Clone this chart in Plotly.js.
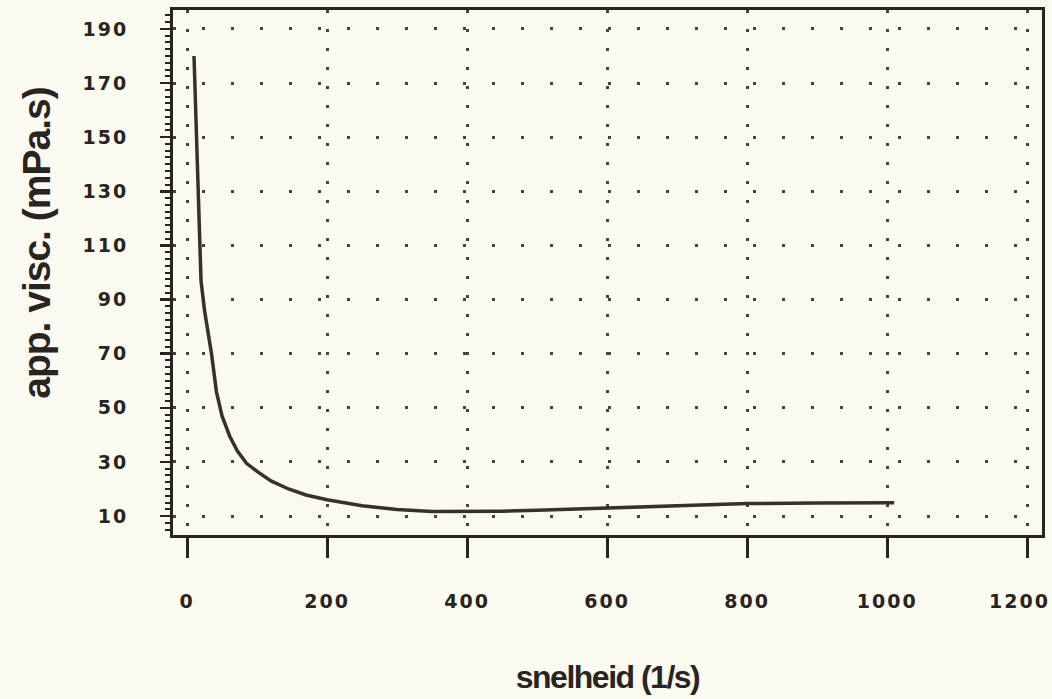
<!DOCTYPE html>
<html>
<head>
<meta charset="utf-8">
<script src="https://cdn.plot.ly/plotly-3.0.1.min.js"></script>
<style>
  html, body { margin: 0; padding: 0; background: #fbfaf1; }
  #chart { width: 1052px; height: 699px; }
  .xtick text, .ytick text { letter-spacing: 2px; }
  .xtitle { letter-spacing: -1.5px; }
  .annotation[data-index="0"] text { letter-spacing: -1px; }
  .annotation[data-index="1"] text { letter-spacing: 2px; }
</style>
</head>
<body>
<div id="chart"></div>
<script>
// Apparent viscosity against shear rate
const shearRate = [10, 15, 20, 25, 30, 35, 42, 50, 61, 72, 85, 100, 120, 145, 170, 200, 250, 300, 350, 400, 450, 500, 600, 700, 800, 900, 1010];
const viscosity = [180, 137, 97, 86, 78, 70, 56, 47, 39.5, 34, 29.5, 26.5, 23, 20, 17.8, 16, 13.8, 12.4, 11.7, 11.6, 11.8, 12.1, 13, 13.8, 14.6, 14.8, 14.9];

const xTickValues = [0, 200, 400, 600, 800, 1000, 1200];
const xTickLabels = ['0', '200', '400', '600', '800', '1000', '1200'];
const yTickValues = [10, 30, 50, 70, 90, 110, 130, 150, 170, 190];

const xTitle = 'snelheid (1/s)';
const yTitle = 'app. visc. (mPa.s)';

const ink = '#2a2421';
const tickFont = { family: 'DejaVu Sans, Arial, sans-serif', size: 19, color: ink, weight: 700 };
const titleFamily = 'Liberation Sans, Arial, sans-serif';

// the last x label is pulled in from the page edge, so it is written
// as a right-anchored note at its tick instead of a centred tick label
const lastX = xTickValues[xTickValues.length - 1];
const axisLabels = xTickLabels.slice(0, -1).concat(['']);

const trace = {
  type: 'scatter',
  mode: 'lines',
  x: shearRate,
  y: viscosity,
  line: { color: '#3a302b', width: 3.5 },
  hoverinfo: 'x+y'
};

const layout = {
  width: 1052,
  height: 699,
  paper_bgcolor: '#fbfaf1',
  plot_bgcolor: '#fbfaf1',
  margin: { l: 173, r: 10, t: 10, b: 164 },
  showlegend: false,
  xaxis: {
    range: [-20, 1221],
    tickmode: 'array',
    tickvals: xTickValues,
    ticktext: axisLabels,
    ticks: 'outside',
    ticklen: 20,
    tickwidth: 3,
    tickcolor: ink,
    ticklabelstandoff: 27,
    tickfont: tickFont,
    showline: true,
    linewidth: 3,
    linecolor: ink,
    mirror: true,
    showgrid: true,
    gridcolor: '#4a423d',
    gridwidth: 3,
    griddash: '3px,16px',
    zeroline: false,
    automargin: false,
    title: { text: xTitle, font: { family: titleFamily, size: 32, color: ink, weight: 700 }, standoff: 55 }
  },
  yaxis: {
    range: [3, 197],
    tickmode: 'array',
    tickvals: yTickValues,
    ticktext: yTickValues.map(String),
    ticks: 'outside',
    ticklen: 10,
    tickwidth: 2.5,
    tickcolor: ink,
    ticklabelstandoff: 28,
    tickfont: tickFont,
    minor: { dtick: 2.5, tick0: 10, ticks: 'outside', ticklen: 5, tickwidth: 2, tickcolor: ink, showgrid: false },
    showline: true,
    linewidth: 3,
    linecolor: ink,
    mirror: true,
    showgrid: true,
    gridcolor: '#4a423d',
    gridwidth: 3,
    griddash: '3px,26px',
    zeroline: false,
    automargin: false
  },
  annotations: [{
    text: yTitle,
    xref: 'paper',
    yref: 'paper',
    x: -0.158,
    y: 0.556,
    xanchor: 'center',
    yanchor: 'middle',
    textangle: -90,
    showarrow: false,
    font: { family: titleFamily, size: 39, color: ink, weight: 700 }
  }, {
    text: xTickLabels[xTickLabels.length - 1],
    xref: 'x',
    yref: 'paper',
    x: lastX,
    y: -0.1257,
    xanchor: 'right',
    yanchor: 'middle',
    xshift: 20,
    showarrow: false,
    borderpad: 0,
    font: tickFont
  }]
};

Plotly.newPlot('chart', [trace], layout, { displayModeBar: false, staticPlot: true });
</script>
</body>
</html>
